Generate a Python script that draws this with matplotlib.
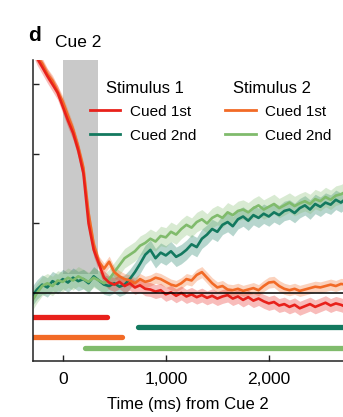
import numpy as np
import matplotlib
matplotlib.use('Agg')
import matplotlib.pyplot as plt
from matplotlib.lines import Line2D

plt.rcParams['font.family'] = ['Liberation Sans', 'DejaVu Sans']

# time base (ms from Cue 2), 50 ms bins
time_ms = np.arange(-300, 2751, 50)

# decoding strength, Stimulus 1 cued 1st
stim1_cued1 = [3.55, 3.38, 3.25, 3.12, 3.0, 2.88, 2.68, 2.48, 2.3, 2.05,
               1.72, 1.0, 0.62, 0.42, 0.22, 0.15, 0.12, 0.16, 0.1, 0.14,
               0.08, 0.11, 0.06, 0.05, 0.02, 0.04, -0.02, 0.01, -0.04, 0.0,
               -0.05, -0.02, -0.06, -0.03, -0.07, -0.04, -0.08, -0.05, -0.03, -0.08,
               -0.05, -0.1, -0.06, -0.11, -0.08, -0.12, -0.15, -0.13, -0.18, -0.16,
               -0.2, -0.17, -0.22, -0.19, -0.16, -0.2, -0.17, -0.14, -0.18, -0.15,
               -0.17, -0.2]
# Stimulus 1 cued 2nd
stim1_cued2 = [-0.05, 0.05, 0.12, 0.08, 0.17, 0.13, 0.2, 0.15, 0.22, 0.17,
               0.2, 0.14, 0.24, 0.18, 0.12, 0.1, 0.14, 0.09, 0.12, 0.2,
               0.3, 0.42, 0.55, 0.62, 0.5, 0.58, 0.54, 0.6, 0.52, 0.56,
               0.62, 0.7, 0.66, 0.78, 0.84, 0.92, 0.88, 0.98, 1.02, 0.96,
               1.06, 1.1, 1.04, 1.12, 1.08, 1.14, 1.1, 1.16, 1.12, 1.18,
               1.2, 1.15, 1.22, 1.26, 1.2, 1.28, 1.24, 1.3, 1.27, 1.34,
               1.3, 1.36]
# Stimulus 2 cued 1st
stim2_cued1 = [3.5, 3.4, 3.3, 3.15, 3.05, 2.9, 2.75, 2.55, 2.35, 2.1,
               1.8, 1.15, 0.7, 0.45, 0.35, 0.45, 0.3, 0.24, 0.2, 0.18,
               0.14, 0.2, 0.16, 0.18, 0.22, 0.2, 0.16, 0.12, 0.1, 0.14,
               0.2, 0.18, 0.26, 0.3, 0.22, 0.14, 0.08, 0.1, 0.05, 0.04,
               0.06, 0.03, 0.05, 0.07, 0.04, 0.1, 0.15, 0.16, 0.1, 0.06,
               0.04, 0.06, 0.03, 0.05, 0.07, 0.09, 0.08, 0.1, 0.12, 0.1,
               0.13, 0.12]
# Stimulus 2 cued 2nd
stim2_cued2 = [-0.12, 0.0, 0.1, 0.14, 0.1, 0.18, 0.16, 0.22, 0.18, 0.24,
               0.2, 0.16, 0.22, 0.18, 0.14, 0.2, 0.3, 0.4, 0.5, 0.55,
               0.6, 0.68, 0.72, 0.78, 0.74, 0.82, 0.8, 0.88, 0.84, 0.92,
               0.98, 0.94, 1.02, 1.06, 1.0, 1.08, 1.12, 1.08, 1.16, 1.12,
               1.18, 1.2, 1.16, 1.22, 1.26, 1.2, 1.24, 1.28, 1.22, 1.26,
               1.3, 1.25, 1.29, 1.32, 1.28, 1.35, 1.32, 1.38, 1.34, 1.4,
               1.42, 1.46]

sems = [0.1, 0.14, 0.08, 0.14]
labels = ['Cued 1st', 'Cued 2nd', 'Cued 1st', 'Cued 2nd']
colors = ['#e8211b', '#13795f', '#f26a26', '#80bb6c']

# significant clusters (start, end in ms)
clusters = [(-300, 425), (730, 2750), (-300, 575), (220, 2750)]
cluster_levels = [-0.35, -0.49, -0.63, -0.79]

cue_window = (0, 340)

fig = plt.figure(figsize=(3.43, 4.17), dpi=100)
ax = fig.add_axes([0.096, 0.134, 0.904, 0.722])

ax.axvspan(cue_window[0], cue_window[1], ymin=0.29, ymax=1.0,
           color='#c9c9c9', lw=0, zorder=0)

series = [stim1_cued2, stim2_cued2, stim2_cued1, stim1_cued1]
order = [1, 3, 2, 0]
for vals, i in zip(series, order):
    vals = np.array(vals)
    ax.fill_between(time_ms, vals - sems[i], vals + sems[i],
                    color=colors[i], alpha=0.3, lw=0, zorder=1)
    ax.plot(time_ms, vals, color=colors[i], lw=1.9, zorder=2)

ax.axhline(0, color='black', lw=1.1, zorder=3)

for (t0, t1), lev, c in zip(clusters, cluster_levels, colors):
    ax.plot([t0, t1], [lev, lev], color=c, lw=3.8, solid_capstyle='round')

ax.set_xlim(-290, 2720)
ax.set_ylim(-0.98, 3.35)
ax.set_xticks([0, 1000, 2000])
ax.set_xticklabels(['0', '1,000', '2,000'])
ax.set_yticks([1, 2, 3])
ax.set_yticklabels([])
ax.tick_params(direction='in', length=4.5, width=1, labelsize=12.5, pad=8,
               color='#222222')
for s in ['top', 'right']:
    ax.spines[s].set_visible(False)
for s in ['left', 'bottom']:
    ax.spines[s].set_linewidth(1.1)
    ax.spines[s].set_color('#222222')
ax.set_xlabel('Time (ms) from Cue 2', fontsize=12, labelpad=7)

# legend: two columns with stimulus headers
handles = [Line2D([], [], color=c, lw=2) for c in colors]
leg = ax.legend(handles, labels, ncol=2, frameon=False, fontsize=11,
                handlelength=2.0, handletextpad=0.6, columnspacing=1.9,
                labelspacing=0.65, loc='upper left',
                bbox_to_anchor=(0.164, 0.872), borderaxespad=0)
ax.text(0.236, 0.905, 'Stimulus 1', transform=ax.transAxes, fontsize=12,
        va='center')
ax.text(0.645, 0.905, 'Stimulus 2', transform=ax.transAxes, fontsize=12,
        va='center')

fig.text(0.082, 0.915, 'd', fontsize=15, fontweight='bold', va='center')
fig.text(0.16, 0.897, 'Cue 2', fontsize=12.5, va='center')

fig.savefig('out.png', dpi=100)
